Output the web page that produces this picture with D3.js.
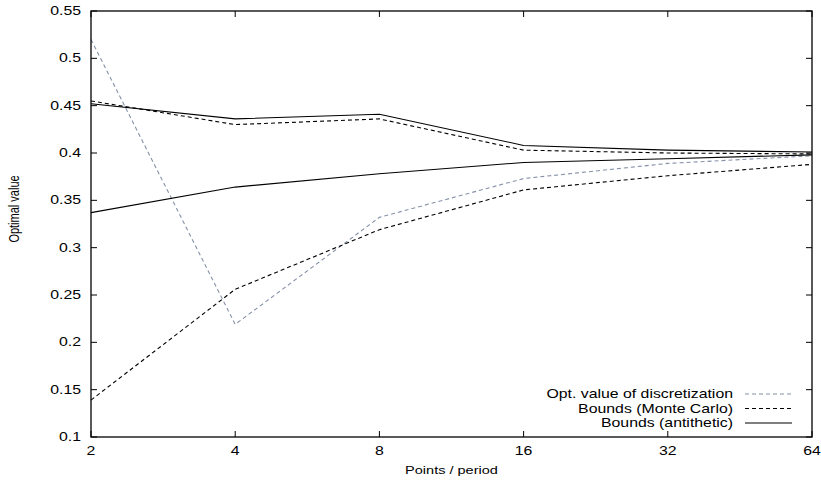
<!DOCTYPE html>
<html>
<head>
<meta charset="utf-8">
<script src="https://cdn.jsdelivr.net/npm/d3@7"></script>
<style>
  body { margin: 0; background: white; }
  text { font-family: "Liberation Sans", Arial, sans-serif; }
</style>
</head>
<body>
<svg id="chart"></svg>
<script>
const w = 821, h = 484;

// data
const points = [2, 4, 8, 16, 32, 64];
const yTicks = [0.1, 0.15, 0.2, 0.25, 0.3, 0.35, 0.4, 0.45, 0.5, 0.55];
const optValue = [0.520, 0.219, 0.332, 0.373, 0.389, 0.397];
const mcUpper = [0.455, 0.430, 0.436, 0.403, 0.400, 0.399];
const mcLower = [0.139, 0.256, 0.319, 0.361, 0.376, 0.388];
const antUpper = [0.452, 0.436, 0.441, 0.408, 0.403, 0.401];
const antLower = [0.337, 0.364, 0.378, 0.390, 0.394, 0.398];

const legendItems = [
    {label: 'Opt. value of discretization', color: '#8691a8', dash: '4,3'},
    {label: 'Bounds (Monte Carlo)', color: '#000', dash: '4,3'},
    {label: 'Bounds (antithetic)', color: '#000', dash: null}
];

const m = {l: 91, r: 812, t: 11, b: 437};
// the picture's text is stretched sideways
const sx = 1.32;

const x = d3.scaleLog().base(2).domain([2, 64]).range([m.l, m.r]);
const y = d3.scaleLinear().domain([0.1, 0.55]).range([m.b, m.t]);

const svg = d3.select('#chart')
    .attr('width', w)
    .attr('height', h)
    .attr('viewBox', '0 0 ' + w + ' ' + h);

const at = (tx, ty) => 'translate(' + tx + ',' + ty + ') scale(' + sx + ',1)';

//ticks (inward, mirrored)
const tl = 6;
const tickG = svg.append('g').attr('stroke', '#000').attr('stroke-width', 1);

yTicks.forEach(v => {
    tickG.append('line').attr('x1', m.l).attr('x2', m.l + tl).attr('y1', y(v)).attr('y2', y(v));
    tickG.append('line').attr('x1', m.r).attr('x2', m.r - tl).attr('y1', y(v)).attr('y2', y(v));
});
points.forEach(v => {
    tickG.append('line').attr('x1', x(v)).attr('x2', x(v)).attr('y1', m.b).attr('y2', m.b - tl);
    tickG.append('line').attr('x1', x(v)).attr('x2', x(v)).attr('y1', m.t).attr('y2', m.t + tl);
});

//tick labels
svg.append('g')
    .selectAll('text')
    .data(yTicks)
    .enter()
    .append('text')
    .attr('transform', d => at(m.l - 10, y(d) + 4))
    .attr('text-anchor', 'end')
    .attr('font-size', '12px')
    .text(d => +d.toFixed(2));

svg.append('g')
    .selectAll('text')
    .data(points)
    .enter()
    .append('text')
    .attr('transform', d => at(x(d), 455))
    .attr('text-anchor', 'middle')
    .attr('font-size', '12px')
    .text(d => d);

//axis titles
svg.append('text')
    .attr('transform', at((m.l + m.r) / 2, 474))
    .attr('text-anchor', 'middle')
    .attr('font-size', '11px')
    .text('Points / period');

svg.append('text')
    .attr('transform', 'translate(19,209) scale(' + sx + ',1) rotate(-90)')
    .attr('text-anchor', 'middle')
    .attr('font-size', '11px')
    .text('Optimal value');

//series
const line = d3.line()
    .x((d, i) => x(points[i]))
    .y(d => y(d));

const series = [
    {values: optValue, style: legendItems[0]},
    {values: mcUpper, style: legendItems[1]},
    {values: mcLower, style: legendItems[1]},
    {values: antUpper, style: legendItems[2]},
    {values: antLower, style: legendItems[2]}
];

svg.append('g')
    .selectAll('path')
    .data(series)
    .enter()
    .append('path')
    .attr('d', d => line(d.values))
    .attr('fill', 'none')
    .attr('stroke', d => d.style.color)
    .attr('stroke-width', 1.1)
    .attr('stroke-dasharray', d => d.style.dash);

//frame
svg.append('rect')
    .attr('x', m.l)
    .attr('y', m.t)
    .attr('width', m.r - m.l)
    .attr('height', m.b - m.t)
    .attr('fill', 'none')
    .attr('stroke', '#000')
    .attr('stroke-width', 1.3);

//legend
const legend = svg.append('g');
legendItems.forEach((d, i) => {
    const ly = 394 + i * 14.5;
    legend.append('text')
        .attr('transform', at(733, ly + 4))
        .attr('text-anchor', 'end')
        .attr('font-size', '12px')
        .text(d.label);
    legend.append('line')
        .attr('x1', 745)
        .attr('x2', 792)
        .attr('y1', ly)
        .attr('y2', ly)
        .attr('stroke', d.color)
        .attr('stroke-width', 1.1)
        .attr('stroke-dasharray', d.dash);
});
</script>
</body>
</html>
